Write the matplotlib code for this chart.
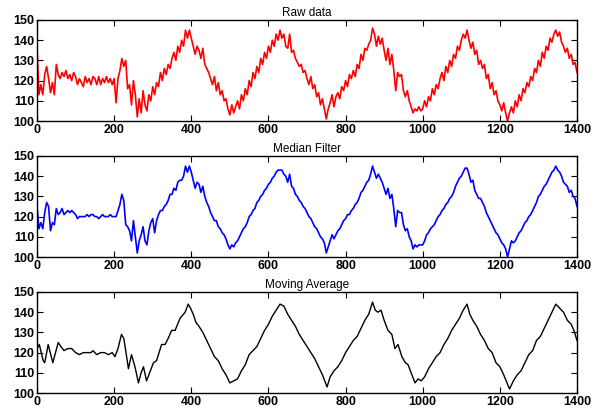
import numpy as np
import matplotlib
matplotlib.use("Agg")
import matplotlib.pyplot as plt

plt.rcParams['font.family'] = ['Liberation Sans', 'DejaVu Sans']

titles = ["Raw data", "Median Filter", "Moving Average"]
colors = ["#ff0000", "#0000ff", "#000000"]
x_ticks = [0, 200, 400, 600, 800, 1000, 1200, 1400]
y_ticks = [100, 110, 120, 130, 140, 150]

# Raw data, sampled every 5 units from 0 to 1400
raw = [
    137,113,118,113,123,127,121,114,119,113,
    128,123,121,124,122,125,121,123,120,124,
    122,118,121,119,117,122,119,121,118,122,
    121,118,122,118,121,119,122,119,121,118,
    121,109,121,125,131,127,130,116,118,108,
    120,113,102,111,104,115,108,105,113,110,
    117,113,119,117,124,120,126,123,128,126,
    131,134,130,137,134,140,137,145,141,145,
    141,137,133,137,135,131,136,128,126,124,
    121,118,122,115,119,113,115,110,111,106,
    103,108,104,107,110,106,113,110,116,113,
    120,117,124,121,127,124,131,128,134,131,
    137,134,140,137,143,140,145,141,143,137,
    136,143,134,135,131,129,127,128,124,125,
    121,118,122,116,118,112,114,108,111,106,
    101,106,109,113,107,112,114,111,117,115,
    120,117,123,121,125,122,128,126,133,130,
    136,135,138,140,146,143,137,142,138,141,
    135,130,136,128,133,125,115,124,122,123,
    115,112,115,110,107,104,106,105,107,105,
    106,110,107,112,110,116,113,118,116,121,
    124,120,127,124,130,127,133,131,137,135,
    140,143,141,145,140,136,139,133,135,128,
    130,126,128,121,123,116,119,113,115,110,
    108,105,109,104,100,104,107,104,110,107,
    113,110,116,114,119,117,122,120,126,124,
    130,127,134,131,137,135,141,139,143,145,
    142,144,139,137,134,136,131,133,128,129,
    124,
]

# Median filtered, sampled every 5 units
median = [
    125,114,117,114,122,127,125,113,117,116,
    124,121,122,124,121,122,123,122,123,122,
    121,119,120,120,120,120,121,120,121,121,
    120,120,119,120,121,120,120,120,121,120,
    120,120,123,126,131,128,116,115,113,108,
    118,110,102,108,111,115,108,106,113,117,
    119,112,118,121,123,123,125,126,128,131,
    131,134,133,137,138,138,140,145,142,145,
    142,138,134,137,136,132,135,130,127,125,
    122,120,118,118,115,114,112,111,109,106,
    104,106,105,107,108,110,112,114,115,117,
    120,121,123,124,127,128,130,131,133,134,
    136,137,139,140,142,143,143,143,141,140,
    137,141,135,134,131,130,128,127,125,124,
    122,120,119,117,115,114,112,110,109,107,
    102,105,108,111,109,111,113,114,116,118,
    119,121,121,123,124,126,127,129,132,133,
    135,137,138,141,145,142,139,141,139,137,
    134,131,134,129,131,124,115,123,122,122,
    116,113,114,110,108,104,106,105,106,106,
    106,108,111,112,114,115,116,118,120,121,
    123,124,126,127,129,130,132,135,137,139,
    140,142,144,144,141,137,138,133,131,129,
    129,127,125,122,120,118,116,114,112,111,
    109,107,106,104,100,104,108,107,108,110,
    112,113,115,117,118,120,121,123,125,127,
    130,131,133,135,136,138,140,142,143,145,
    143,142,140,137,136,135,132,133,130,129,
    125,
]

# Moving average
ma_x = [0,6,16,20,29,41,55,62,70,80,90,100,110,120,130,140,145,155,165,175,185,195,
        202,210,219,225,230,237,245,254,263,270,276,284,292,302,310,323,332,340,349,358,
        371,384,392,398,405,412,420,430,440,450,460,470,480,490,500,510,520,530,540,550,
        560,570,580,590,600,610,620,630,640,650,660,670,680,690,700,710,720,730,740,752,
        760,770,780,790,800,810,820,830,840,850,860,870,877,884,892,900,910,920,928,936,
        946,955,962,970,980,988,996,1005,1015,1025,1035,1045,1055,1065,1075,1085,1095,
        1105,1115,1122,1130,1140,1150,1160,1170,1180,1190,1200,1210,1225,1235,1245,1255,
        1265,1275,1285,1295,1305,1315,1325,1335,1345,1355,1365,1375,1385,1392,1400]
ma_y = [122,124,116,115,124,115,125,123,121,122,122,120,119,120,120,120,121,119,120,120,119,120,
        118,122,129,127,121,112,119,113,105,110,113,106,110,115,116,124,124,127,131,131,
        137,140,144,142,139,135,133,130,126,122,118,116,112,109,105,106,107,111,114,119,
        121,123,127,131,134,138,141,144,143,139,136,133,129,126,123,120,117,113,109,103,
        108,111,113,116,120,123,126,128,132,136,139,145,141,140,141,136,131,129,122,124,
        118,115,114,110,105,107,106,108,112,115,118,120,124,127,131,134,137,
        141,144,139,136,133,129,126,122,120,115,113,109,102,106,109,111,
        115,119,121,126,128,132,136,140,144,142,140,136,134,131,126]

fig = plt.figure(figsize=(5.98, 4.12), dpi=100)
W, H = 598, 412
boxes = [(37, 20, 577, 121), (37, 156, 577, 257), (37, 292, 577, 393)]
series = [
    (np.linspace(0, 1400, len(raw)), raw),
    (np.linspace(0, 1400, len(median)), median),
    (np.array(ma_x), ma_y),
]
widths = [1.2, 1.2, 1.0]
for (l, t, r, b), title, col, (xs, ys), lw in zip(boxes, titles, colors, series, widths):
    ax = fig.add_axes([l / W, 1 - b / H, (r - l) / W, (b - t) / H])
    ax.plot(xs, ys, color=col, lw=lw)
    ax.set_xlim(0, 1400)
    ax.set_ylim(100, 150)
    ax.set_xticks(x_ticks)
    ax.set_yticks(y_ticks)
    ax.tick_params(direction='in', top=True, right=True, length=4, width=0.8,
                   labelsize=9, pad=2)
    for lab in ax.get_xticklabels() + ax.get_yticklabels():
        lab.set_fontweight('bold')
    for s in ax.spines.values():
        s.set_linewidth(1.0)
    ax.set_title(title, fontsize=8.5, pad=3)

fig.savefig("out.png", dpi=100)
